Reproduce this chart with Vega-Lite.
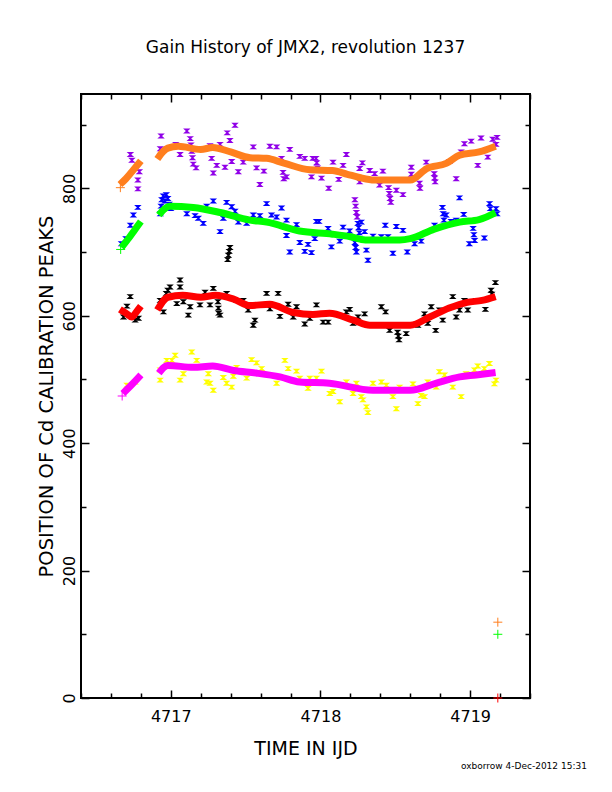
{
  "$schema": "https://vega.github.io/schema/vega-lite/v6.json",
  "width": 449,
  "height": 604,
  "autosize": {"type": "none"},
  "padding": {"left": 81, "top": 94, "right": 82, "bottom": 94},
  "background": "white",
  "title": {
    "text": "Gain History of JMX2, revolution 1237",
    "font": "DejaVu Sans", "fontSize": 17, "fontWeight": "normal", "color": "black",
    "anchor": "middle", "frame": "group", "baseline": "alphabetic", "offset": 23
  },
  "datasets": {
    "raw": [
      {"series": "Peak 4", "t": 4716.73, "v": 853}, {"series": "Peak 4", "t": 4716.74, "v": 844}, {"series": "Peak 4", "t": 4716.78, "v": 813},
      {"series": "Peak 4", "t": 4716.79, "v": 826}, {"series": "Peak 4", "t": 4716.78, "v": 799}, {"series": "Peak 4", "t": 4716.935, "v": 882},
      {"series": "Peak 4", "t": 4716.93, "v": 862}, {"series": "Peak 4", "t": 4717.033, "v": 869}, {"series": "Peak 4", "t": 4717.062, "v": 853},
      {"series": "Peak 4", "t": 4717.107, "v": 890}, {"series": "Peak 4", "t": 4717.13, "v": 878}, {"series": "Peak 4", "t": 4717.135, "v": 868},
      {"series": "Peak 4", "t": 4717.14, "v": 858}, {"series": "Peak 4", "t": 4717.145, "v": 848}, {"series": "Peak 4", "t": 4717.15, "v": 838},
      {"series": "Peak 4", "t": 4717.169, "v": 832}, {"series": "Peak 4", "t": 4717.262, "v": 867}, {"series": "Peak 4", "t": 4717.273, "v": 847},
      {"series": "Peak 4", "t": 4717.284, "v": 824}, {"series": "Peak 4", "t": 4717.307, "v": 836}, {"series": "Peak 4", "t": 4717.329, "v": 869},
      {"series": "Peak 4", "t": 4717.362, "v": 833}, {"series": "Peak 4", "t": 4717.377, "v": 887}, {"series": "Peak 4", "t": 4717.395, "v": 875},
      {"series": "Peak 4", "t": 4717.407, "v": 842}, {"series": "Peak 4", "t": 4717.429, "v": 899}, {"series": "Peak 4", "t": 4717.451, "v": 826},
      {"series": "Peak 4", "t": 4717.484, "v": 841}, {"series": "Peak 4", "t": 4717.551, "v": 865}, {"series": "Peak 4", "t": 4717.573, "v": 832},
      {"series": "Peak 4", "t": 4717.595, "v": 806}, {"series": "Peak 4", "t": 4717.622, "v": 827}, {"series": "Peak 4", "t": 4717.662, "v": 866},
      {"series": "Peak 4", "t": 4717.707, "v": 865}, {"series": "Peak 4", "t": 4717.74, "v": 847}, {"series": "Peak 4", "t": 4717.75, "v": 825},
      {"series": "Peak 4", "t": 4717.755, "v": 815}, {"series": "Peak 4", "t": 4717.773, "v": 818}, {"series": "Peak 4", "t": 4717.795, "v": 861},
      {"series": "Peak 4", "t": 4717.862, "v": 850}, {"series": "Peak 4", "t": 4717.895, "v": 847}, {"series": "Peak 4", "t": 4717.94, "v": 818},
      {"series": "Peak 4", "t": 4717.949, "v": 847}, {"series": "Peak 4", "t": 4717.97, "v": 847}, {"series": "Peak 4", "t": 4717.975, "v": 840},
      {"series": "Peak 4", "t": 4717.98, "v": 832}, {"series": "Peak 4", "t": 4718.007, "v": 816}, {"series": "Peak 4", "t": 4718.055, "v": 800},
      {"series": "Peak 4", "t": 4718.084, "v": 841}, {"series": "Peak 4", "t": 4718.122, "v": 814}, {"series": "Peak 4", "t": 4718.151, "v": 836},
      {"series": "Peak 4", "t": 4718.173, "v": 853}, {"series": "Peak 4", "t": 4718.23, "v": 782}, {"series": "Peak 4", "t": 4718.235, "v": 772},
      {"series": "Peak 4", "t": 4718.24, "v": 762}, {"series": "Peak 4", "t": 4718.245, "v": 755}, {"series": "Peak 4", "t": 4718.262, "v": 831},
      {"series": "Peak 4", "t": 4718.262, "v": 810}, {"series": "Peak 4", "t": 4718.28, "v": 840}, {"series": "Peak 4", "t": 4718.329, "v": 828},
      {"series": "Peak 4", "t": 4718.362, "v": 823}, {"series": "Peak 4", "t": 4718.395, "v": 805}, {"series": "Peak 4", "t": 4718.417, "v": 827},
      {"series": "Peak 4", "t": 4718.455, "v": 801}, {"series": "Peak 4", "t": 4718.46, "v": 792}, {"series": "Peak 4", "t": 4718.465, "v": 784},
      {"series": "Peak 4", "t": 4718.47, "v": 778}, {"series": "Peak 4", "t": 4718.507, "v": 797}, {"series": "Peak 4", "t": 4718.551, "v": 790},
      {"series": "Peak 4", "t": 4718.607, "v": 833}, {"series": "Peak 4", "t": 4718.607, "v": 822}, {"series": "Peak 4", "t": 4718.662, "v": 808},
      {"series": "Peak 4", "t": 4718.665, "v": 800}, {"series": "Peak 4", "t": 4718.707, "v": 841}, {"series": "Peak 4", "t": 4718.76, "v": 823},
      {"series": "Peak 4", "t": 4718.763, "v": 816}, {"series": "Peak 4", "t": 4718.766, "v": 810}, {"series": "Peak 4", "t": 4718.862, "v": 842},
      {"series": "Peak 4", "t": 4718.907, "v": 815}, {"series": "Peak 4", "t": 4718.94, "v": 857}, {"series": "Peak 4", "t": 4718.962, "v": 870},
      {"series": "Peak 4", "t": 4719.007, "v": 874}, {"series": "Peak 4", "t": 4719.051, "v": 836}, {"series": "Peak 4", "t": 4719.073, "v": 879},
      {"series": "Peak 4", "t": 4719.118, "v": 849}, {"series": "Peak 4", "t": 4719.151, "v": 877}, {"series": "Peak 4", "t": 4719.173, "v": 869},
      {"series": "Peak 4", "t": 4719.18, "v": 880},

      {"series": "Peak 3", "t": 4716.67, "v": 713}, {"series": "Peak 3", "t": 4716.7, "v": 721}, {"series": "Peak 3", "t": 4716.73, "v": 742},
      {"series": "Peak 3", "t": 4716.75, "v": 758}, {"series": "Peak 3", "t": 4716.78, "v": 770}, {"series": "Peak 3", "t": 4716.93, "v": 760},
      {"series": "Peak 3", "t": 4716.935, "v": 772}, {"series": "Peak 3", "t": 4716.94, "v": 782}, {"series": "Peak 3", "t": 4716.95, "v": 788},
      {"series": "Peak 3", "t": 4716.96, "v": 780}, {"series": "Peak 3", "t": 4716.97, "v": 790}, {"series": "Peak 3", "t": 4716.98, "v": 784},
      {"series": "Peak 3", "t": 4716.99, "v": 775}, {"series": "Peak 3", "t": 4717.0, "v": 768}, {"series": "Peak 3", "t": 4717.107, "v": 760},
      {"series": "Peak 3", "t": 4717.162, "v": 757}, {"series": "Peak 3", "t": 4717.184, "v": 753}, {"series": "Peak 3", "t": 4717.217, "v": 745},
      {"series": "Peak 3", "t": 4717.24, "v": 772}, {"series": "Peak 3", "t": 4717.284, "v": 780}, {"series": "Peak 3", "t": 4717.329, "v": 732},
      {"series": "Peak 3", "t": 4717.351, "v": 753}, {"series": "Peak 3", "t": 4717.373, "v": 778}, {"series": "Peak 3", "t": 4717.407, "v": 771},
      {"series": "Peak 3", "t": 4717.429, "v": 764}, {"series": "Peak 3", "t": 4717.451, "v": 747}, {"series": "Peak 3", "t": 4717.507, "v": 745},
      {"series": "Peak 3", "t": 4717.551, "v": 758}, {"series": "Peak 3", "t": 4717.595, "v": 757}, {"series": "Peak 3", "t": 4717.64, "v": 776},
      {"series": "Peak 3", "t": 4717.673, "v": 758}, {"series": "Peak 3", "t": 4717.707, "v": 755}, {"series": "Peak 3", "t": 4717.74, "v": 769},
      {"series": "Peak 3", "t": 4717.773, "v": 750}, {"series": "Peak 3", "t": 4717.773, "v": 726}, {"series": "Peak 3", "t": 4717.795, "v": 700},
      {"series": "Peak 3", "t": 4717.84, "v": 743}, {"series": "Peak 3", "t": 4717.862, "v": 715}, {"series": "Peak 3", "t": 4717.895, "v": 701},
      {"series": "Peak 3", "t": 4717.917, "v": 712}, {"series": "Peak 3", "t": 4717.94, "v": 699}, {"series": "Peak 3", "t": 4717.962, "v": 721},
      {"series": "Peak 3", "t": 4717.973, "v": 748}, {"series": "Peak 3", "t": 4717.99, "v": 748}, {"series": "Peak 3", "t": 4718.051, "v": 737},
      {"series": "Peak 3", "t": 4718.073, "v": 708}, {"series": "Peak 3", "t": 4718.129, "v": 717}, {"series": "Peak 3", "t": 4718.151, "v": 739},
      {"series": "Peak 3", "t": 4718.195, "v": 733}, {"series": "Peak 3", "t": 4718.23, "v": 715}, {"series": "Peak 3", "t": 4718.235, "v": 707},
      {"series": "Peak 3", "t": 4718.24, "v": 700}, {"series": "Peak 3", "t": 4718.25, "v": 745}, {"series": "Peak 3", "t": 4718.255, "v": 738},
      {"series": "Peak 3", "t": 4718.26, "v": 730}, {"series": "Peak 3", "t": 4718.273, "v": 747}, {"series": "Peak 3", "t": 4718.295, "v": 732},
      {"series": "Peak 3", "t": 4718.307, "v": 703}, {"series": "Peak 3", "t": 4718.317, "v": 687}, {"series": "Peak 3", "t": 4718.351, "v": 725},
      {"series": "Peak 3", "t": 4718.407, "v": 724}, {"series": "Peak 3", "t": 4718.433, "v": 742}, {"series": "Peak 3", "t": 4718.451, "v": 724},
      {"series": "Peak 3", "t": 4718.484, "v": 698}, {"series": "Peak 3", "t": 4718.507, "v": 740}, {"series": "Peak 3", "t": 4718.551, "v": 734},
      {"series": "Peak 3", "t": 4718.58, "v": 700}, {"series": "Peak 3", "t": 4718.629, "v": 713}, {"series": "Peak 3", "t": 4718.651, "v": 724},
      {"series": "Peak 3", "t": 4718.673, "v": 717}, {"series": "Peak 3", "t": 4718.762, "v": 742}, {"series": "Peak 3", "t": 4718.815, "v": 770},
      {"series": "Peak 3", "t": 4718.82, "v": 760}, {"series": "Peak 3", "t": 4718.825, "v": 750}, {"series": "Peak 3", "t": 4718.84, "v": 758},
      {"series": "Peak 3", "t": 4718.873, "v": 748}, {"series": "Peak 3", "t": 4718.907, "v": 750}, {"series": "Peak 3", "t": 4718.929, "v": 785},
      {"series": "Peak 3", "t": 4718.957, "v": 759}, {"series": "Peak 3", "t": 4718.995, "v": 713}, {"series": "Peak 3", "t": 4719.02, "v": 737},
      {"series": "Peak 3", "t": 4719.025, "v": 727}, {"series": "Peak 3", "t": 4719.03, "v": 718}, {"series": "Peak 3", "t": 4719.095, "v": 722},
      {"series": "Peak 3", "t": 4719.13, "v": 776}, {"series": "Peak 3", "t": 4719.135, "v": 768}, {"series": "Peak 3", "t": 4719.173, "v": 768},
      {"series": "Peak 3", "t": 4719.18, "v": 760},

      {"series": "Peak 2", "t": 4716.684, "v": 598}, {"series": "Peak 2", "t": 4716.707, "v": 615}, {"series": "Peak 2", "t": 4716.729, "v": 630},
      {"series": "Peak 2", "t": 4716.762, "v": 593}, {"series": "Peak 2", "t": 4716.784, "v": 596}, {"series": "Peak 2", "t": 4716.929, "v": 624},
      {"series": "Peak 2", "t": 4716.951, "v": 606}, {"series": "Peak 2", "t": 4716.97, "v": 635}, {"series": "Peak 2", "t": 4716.98, "v": 640},
      {"series": "Peak 2", "t": 4716.995, "v": 645}, {"series": "Peak 2", "t": 4717.04, "v": 619}, {"series": "Peak 2", "t": 4717.062, "v": 656},
      {"series": "Peak 2", "t": 4717.062, "v": 645}, {"series": "Peak 2", "t": 4717.084, "v": 622}, {"series": "Peak 2", "t": 4717.117, "v": 601},
      {"series": "Peak 2", "t": 4717.129, "v": 614}, {"series": "Peak 2", "t": 4717.195, "v": 617}, {"series": "Peak 2", "t": 4717.229, "v": 637},
      {"series": "Peak 2", "t": 4717.262, "v": 617}, {"series": "Peak 2", "t": 4717.284, "v": 643}, {"series": "Peak 2", "t": 4717.315, "v": 622},
      {"series": "Peak 2", "t": 4717.318, "v": 612}, {"series": "Peak 2", "t": 4717.32, "v": 604}, {"series": "Peak 2", "t": 4717.329, "v": 601},
      {"series": "Peak 2", "t": 4717.373, "v": 635}, {"series": "Peak 2", "t": 4717.38, "v": 688}, {"series": "Peak 2", "t": 4717.385, "v": 695},
      {"series": "Peak 2", "t": 4717.39, "v": 701}, {"series": "Peak 2", "t": 4717.395, "v": 707}, {"series": "Peak 2", "t": 4717.44, "v": 624},
      {"series": "Peak 2", "t": 4717.484, "v": 624}, {"series": "Peak 2", "t": 4717.517, "v": 609}, {"series": "Peak 2", "t": 4717.551, "v": 585},
      {"series": "Peak 2", "t": 4717.562, "v": 593}, {"series": "Peak 2", "t": 4717.64, "v": 635}, {"series": "Peak 2", "t": 4717.662, "v": 611},
      {"series": "Peak 2", "t": 4717.717, "v": 635}, {"series": "Peak 2", "t": 4717.729, "v": 599}, {"series": "Peak 2", "t": 4717.784, "v": 618},
      {"series": "Peak 2", "t": 4717.818, "v": 598}, {"series": "Peak 2", "t": 4717.84, "v": 614}, {"series": "Peak 2", "t": 4717.895, "v": 587},
      {"series": "Peak 2", "t": 4717.929, "v": 596}, {"series": "Peak 2", "t": 4717.973, "v": 617}, {"series": "Peak 2", "t": 4718.018, "v": 590},
      {"series": "Peak 2", "t": 4718.051, "v": 590}, {"series": "Peak 2", "t": 4718.173, "v": 606}, {"series": "Peak 2", "t": 4718.195, "v": 610},
      {"series": "Peak 2", "t": 4718.218, "v": 588}, {"series": "Peak 2", "t": 4718.251, "v": 598}, {"series": "Peak 2", "t": 4718.295, "v": 603},
      {"series": "Peak 2", "t": 4718.407, "v": 614}, {"series": "Peak 2", "t": 4718.435, "v": 606}, {"series": "Peak 2", "t": 4718.462, "v": 577},
      {"series": "Peak 2", "t": 4718.515, "v": 574}, {"series": "Peak 2", "t": 4718.52, "v": 568}, {"series": "Peak 2", "t": 4718.525, "v": 562},
      {"series": "Peak 2", "t": 4718.573, "v": 572}, {"series": "Peak 2", "t": 4718.651, "v": 585}, {"series": "Peak 2", "t": 4718.695, "v": 603},
      {"series": "Peak 2", "t": 4718.717, "v": 588}, {"series": "Peak 2", "t": 4718.74, "v": 614}, {"series": "Peak 2", "t": 4718.77, "v": 577},
      {"series": "Peak 2", "t": 4718.795, "v": 609}, {"series": "Peak 2", "t": 4718.817, "v": 593}, {"series": "Peak 2", "t": 4718.884, "v": 630},
      {"series": "Peak 2", "t": 4718.907, "v": 598}, {"series": "Peak 2", "t": 4718.929, "v": 609}, {"series": "Peak 2", "t": 4718.962, "v": 624},
      {"series": "Peak 2", "t": 4718.984, "v": 609}, {"series": "Peak 2", "t": 4719.04, "v": 624}, {"series": "Peak 2", "t": 4719.102, "v": 610},
      {"series": "Peak 2", "t": 4719.14, "v": 640}, {"series": "Peak 2", "t": 4719.145, "v": 634}, {"series": "Peak 2", "t": 4719.169, "v": 652},

      {"series": "Peak 1", "t": 4716.707, "v": 491}, {"series": "Peak 1", "t": 4716.762, "v": 496}, {"series": "Peak 1", "t": 4716.929, "v": 515},
      {"series": "Peak 1", "t": 4716.929, "v": 499}, {"series": "Peak 1", "t": 4716.973, "v": 530}, {"series": "Peak 1", "t": 4717.007, "v": 530},
      {"series": "Peak 1", "t": 4717.029, "v": 538}, {"series": "Peak 1", "t": 4717.062, "v": 499}, {"series": "Peak 1", "t": 4717.084, "v": 509},
      {"series": "Peak 1", "t": 4717.14, "v": 543}, {"series": "Peak 1", "t": 4717.173, "v": 530}, {"series": "Peak 1", "t": 4717.24, "v": 496},
      {"series": "Peak 1", "t": 4717.251, "v": 509}, {"series": "Peak 1", "t": 4717.262, "v": 494}, {"series": "Peak 1", "t": 4717.284, "v": 483},
      {"series": "Peak 1", "t": 4717.351, "v": 503}, {"series": "Peak 1", "t": 4717.373, "v": 494}, {"series": "Peak 1", "t": 4717.407, "v": 488},
      {"series": "Peak 1", "t": 4717.418, "v": 505}, {"series": "Peak 1", "t": 4717.44, "v": 519}, {"series": "Peak 1", "t": 4717.507, "v": 502},
      {"series": "Peak 1", "t": 4717.54, "v": 531}, {"series": "Peak 1", "t": 4717.573, "v": 526}, {"series": "Peak 1", "t": 4717.607, "v": 517},
      {"series": "Peak 1", "t": 4717.707, "v": 494}, {"series": "Peak 1", "t": 4717.762, "v": 530}, {"series": "Peak 1", "t": 4717.784, "v": 517},
      {"series": "Peak 1", "t": 4717.84, "v": 513}, {"series": "Peak 1", "t": 4717.862, "v": 502}, {"series": "Peak 1", "t": 4717.917, "v": 486},
      {"series": "Peak 1", "t": 4717.929, "v": 502}, {"series": "Peak 1", "t": 4717.973, "v": 502}, {"series": "Peak 1", "t": 4718.007, "v": 513},
      {"series": "Peak 1", "t": 4718.062, "v": 478}, {"series": "Peak 1", "t": 4718.084, "v": 481}, {"series": "Peak 1", "t": 4718.129, "v": 465},
      {"series": "Peak 1", "t": 4718.173, "v": 496}, {"series": "Peak 1", "t": 4718.218, "v": 478}, {"series": "Peak 1", "t": 4718.24, "v": 494},
      {"series": "Peak 1", "t": 4718.273, "v": 473}, {"series": "Peak 1", "t": 4718.284, "v": 468}, {"series": "Peak 1", "t": 4718.307, "v": 457},
      {"series": "Peak 1", "t": 4718.317, "v": 448}, {"series": "Peak 1", "t": 4718.351, "v": 494}, {"series": "Peak 1", "t": 4718.407, "v": 496},
      {"series": "Peak 1", "t": 4718.44, "v": 491}, {"series": "Peak 1", "t": 4718.484, "v": 473}, {"series": "Peak 1", "t": 4718.507, "v": 454},
      {"series": "Peak 1", "t": 4718.529, "v": 488}, {"series": "Peak 1", "t": 4718.573, "v": 483}, {"series": "Peak 1", "t": 4718.618, "v": 493},
      {"series": "Peak 1", "t": 4718.651, "v": 462}, {"series": "Peak 1", "t": 4718.673, "v": 475}, {"series": "Peak 1", "t": 4718.695, "v": 473},
      {"series": "Peak 1", "t": 4718.717, "v": 496}, {"series": "Peak 1", "t": 4718.773, "v": 488}, {"series": "Peak 1", "t": 4718.795, "v": 512},
      {"series": "Peak 1", "t": 4718.829, "v": 507}, {"series": "Peak 1", "t": 4718.884, "v": 488}, {"series": "Peak 1", "t": 4718.94, "v": 473},
      {"series": "Peak 1", "t": 4718.973, "v": 509}, {"series": "Peak 1", "t": 4719.029, "v": 515}, {"series": "Peak 1", "t": 4719.051, "v": 521},
      {"series": "Peak 1", "t": 4719.095, "v": 517}, {"series": "Peak 1", "t": 4719.129, "v": 525}, {"series": "Peak 1", "t": 4719.162, "v": 493},
      {"series": "Peak 1", "t": 4719.173, "v": 499}
    ],
    "fit": [
      {"series": "Peak 4 fit", "seg": "a", "t": 4716.66, "v": 806}, {"series": "Peak 4 fit", "seg": "a", "t": 4716.7, "v": 815},
      {"series": "Peak 4 fit", "seg": "a", "t": 4716.74, "v": 826}, {"series": "Peak 4 fit", "seg": "a", "t": 4716.8, "v": 843},
      {"series": "Peak 4 fit", "seg": "b", "t": 4716.91, "v": 846}, {"series": "Peak 4 fit", "seg": "b", "t": 4716.95, "v": 858},
      {"series": "Peak 4 fit", "seg": "b", "t": 4716.98, "v": 863}, {"series": "Peak 4 fit", "seg": "b", "t": 4717.05, "v": 866},
      {"series": "Peak 4 fit", "seg": "b", "t": 4717.2, "v": 861}, {"series": "Peak 4 fit", "seg": "b", "t": 4717.28, "v": 864},
      {"series": "Peak 4 fit", "seg": "b", "t": 4717.4, "v": 857}, {"series": "Peak 4 fit", "seg": "b", "t": 4717.53, "v": 848},
      {"series": "Peak 4 fit", "seg": "b", "t": 4717.64, "v": 847}, {"series": "Peak 4 fit", "seg": "b", "t": 4717.75, "v": 840},
      {"series": "Peak 4 fit", "seg": "b", "t": 4717.93, "v": 829}, {"series": "Peak 4 fit", "seg": "b", "t": 4718.08, "v": 828},
      {"series": "Peak 4 fit", "seg": "b", "t": 4718.18, "v": 822}, {"series": "Peak 4 fit", "seg": "b", "t": 4718.26, "v": 817},
      {"series": "Peak 4 fit", "seg": "b", "t": 4718.36, "v": 813}, {"series": "Peak 4 fit", "seg": "b", "t": 4718.6, "v": 813},
      {"series": "Peak 4 fit", "seg": "b", "t": 4718.71, "v": 831}, {"series": "Peak 4 fit", "seg": "b", "t": 4718.84, "v": 839},
      {"series": "Peak 4 fit", "seg": "b", "t": 4718.93, "v": 852}, {"series": "Peak 4 fit", "seg": "b", "t": 4719.06, "v": 857},
      {"series": "Peak 4 fit", "seg": "b", "t": 4719.17, "v": 866},

      {"series": "Peak 3 fit", "seg": "a", "t": 4716.67, "v": 707}, {"series": "Peak 3 fit", "seg": "a", "t": 4716.72, "v": 722},
      {"series": "Peak 3 fit", "seg": "a", "t": 4716.76, "v": 735}, {"series": "Peak 3 fit", "seg": "a", "t": 4716.8, "v": 748},
      {"series": "Peak 3 fit", "seg": "b", "t": 4716.92, "v": 758}, {"series": "Peak 3 fit", "seg": "b", "t": 4716.96, "v": 768},
      {"series": "Peak 3 fit", "seg": "b", "t": 4716.99, "v": 772}, {"series": "Peak 3 fit", "seg": "b", "t": 4717.15, "v": 770},
      {"series": "Peak 3 fit", "seg": "b", "t": 4717.33, "v": 762}, {"series": "Peak 3 fit", "seg": "b", "t": 4717.53, "v": 750},
      {"series": "Peak 3 fit", "seg": "b", "t": 4717.64, "v": 747}, {"series": "Peak 3 fit", "seg": "b", "t": 4717.86, "v": 733},
      {"series": "Peak 3 fit", "seg": "b", "t": 4718.08, "v": 728}, {"series": "Peak 3 fit", "seg": "b", "t": 4718.2, "v": 724},
      {"series": "Peak 3 fit", "seg": "b", "t": 4718.3, "v": 719}, {"series": "Peak 3 fit", "seg": "b", "t": 4718.53, "v": 719},
      {"series": "Peak 3 fit", "seg": "b", "t": 4718.6, "v": 721}, {"series": "Peak 3 fit", "seg": "b", "t": 4718.76, "v": 736},
      {"series": "Peak 3 fit", "seg": "b", "t": 4718.93, "v": 747}, {"series": "Peak 3 fit", "seg": "b", "t": 4719.06, "v": 751},
      {"series": "Peak 3 fit", "seg": "b", "t": 4719.17, "v": 762},

      {"series": "Peak 2 fit", "seg": "a", "t": 4716.66, "v": 610}, {"series": "Peak 2 fit", "seg": "a", "t": 4716.7, "v": 604},
      {"series": "Peak 2 fit", "seg": "a", "t": 4716.74, "v": 598}, {"series": "Peak 2 fit", "seg": "a", "t": 4716.77, "v": 606},
      {"series": "Peak 2 fit", "seg": "a", "t": 4716.8, "v": 615},
      {"series": "Peak 2 fit", "seg": "b", "t": 4716.91, "v": 609}, {"series": "Peak 2 fit", "seg": "b", "t": 4716.98, "v": 629},
      {"series": "Peak 2 fit", "seg": "b", "t": 4717.08, "v": 632}, {"series": "Peak 2 fit", "seg": "b", "t": 4717.2, "v": 629},
      {"series": "Peak 2 fit", "seg": "b", "t": 4717.3, "v": 632}, {"series": "Peak 2 fit", "seg": "b", "t": 4717.42, "v": 626},
      {"series": "Peak 2 fit", "seg": "b", "t": 4717.53, "v": 616}, {"series": "Peak 2 fit", "seg": "b", "t": 4717.66, "v": 618},
      {"series": "Peak 2 fit", "seg": "b", "t": 4717.82, "v": 605}, {"series": "Peak 2 fit", "seg": "b", "t": 4717.95, "v": 602},
      {"series": "Peak 2 fit", "seg": "b", "t": 4718.06, "v": 604}, {"series": "Peak 2 fit", "seg": "b", "t": 4718.22, "v": 593},
      {"series": "Peak 2 fit", "seg": "b", "t": 4718.33, "v": 585}, {"series": "Peak 2 fit", "seg": "b", "t": 4718.6, "v": 585},
      {"series": "Peak 2 fit", "seg": "b", "t": 4718.73, "v": 598}, {"series": "Peak 2 fit", "seg": "b", "t": 4718.86, "v": 612},
      {"series": "Peak 2 fit", "seg": "b", "t": 4718.98, "v": 621}, {"series": "Peak 2 fit", "seg": "b", "t": 4719.08, "v": 624},
      {"series": "Peak 2 fit", "seg": "b", "t": 4719.17, "v": 630},

      {"series": "Peak 1 fit", "seg": "a", "t": 4716.68, "v": 478}, {"series": "Peak 1 fit", "seg": "a", "t": 4716.74, "v": 492},
      {"series": "Peak 1 fit", "seg": "a", "t": 4716.8, "v": 507},
      {"series": "Peak 1 fit", "seg": "b", "t": 4716.92, "v": 510}, {"series": "Peak 1 fit", "seg": "b", "t": 4716.98, "v": 522},
      {"series": "Peak 1 fit", "seg": "b", "t": 4717.15, "v": 519}, {"series": "Peak 1 fit", "seg": "b", "t": 4717.28, "v": 521},
      {"series": "Peak 1 fit", "seg": "b", "t": 4717.42, "v": 514}, {"series": "Peak 1 fit", "seg": "b", "t": 4717.57, "v": 510},
      {"series": "Peak 1 fit", "seg": "b", "t": 4717.73, "v": 504}, {"series": "Peak 1 fit", "seg": "b", "t": 4717.86, "v": 496},
      {"series": "Peak 1 fit", "seg": "b", "t": 4718.06, "v": 494}, {"series": "Peak 1 fit", "seg": "b", "t": 4718.35, "v": 483},
      {"series": "Peak 1 fit", "seg": "b", "t": 4718.6, "v": 483}, {"series": "Peak 1 fit", "seg": "b", "t": 4718.77, "v": 494},
      {"series": "Peak 1 fit", "seg": "b", "t": 4718.93, "v": 504}, {"series": "Peak 1 fit", "seg": "b", "t": 4719.04, "v": 507},
      {"series": "Peak 1 fit", "seg": "b", "t": 4719.17, "v": 511}
    ],
    "plus": [
      {"series": "Peak 4 fit", "t": 4719.185, "v": 119},
      {"series": "Peak 3 fit", "t": 4719.185, "v": 100},
      {"series": "Peak 2 fit", "t": 4719.185, "v": 0},
      {"series": "Peak 4 fit", "t": 4716.663, "v": 801},
      {"series": "Peak 3 fit", "t": 4716.665, "v": 704},
      {"series": "Peak 1 fit", "t": 4716.675, "v": 474}
    ],
    "note": [
      {"text": "oxborrow 4-Dec-2012 15:31"}
    ]
  },
  "layer": [
    {
      "data": {"name": "raw"},
      "mark": {"type": "point", "shape": "M-1,-0.65L1,-0.65L0.25,0L1,0.65L-1,0.65L-0.25,0Z", "filled": true, "size": 56, "opacity": 1},
      "encoding": {
        "x": {
          "field": "t", "type": "quantitative",
          "scale": {"domain": [4716.4, 4719.4], "nice": false, "zero": false},
          "axis": {
            "orient": "bottom", "values": [4717, 4718, 4719], "format": "d",
            "tickSize": -8, "labelPadding": 18,
            "title": "TIME IN IJD", "titleFontSize": 19, "titleY": 56, "titleBaseline": "alphabetic"
          }
        },
        "y": {
          "field": "v", "type": "quantitative",
          "scale": {"domain": [0, 948], "nice": false},
          "axis": {
            "orient": "left", "values": [0, 200, 400, 600, 800],
            "tickSize": -8,
            "labelAngle": -90, "labelAlign": "center", "labelBaseline": "alphabetic",
            "labelPadding": 15,
            "title": "POSITION OF Cd CALIBRATION PEAKS",
            "titleFontSize": 19.5, "titleX": -29, "titleBaseline": "alphabetic"
          }
        },
        "color": {
          "field": "series", "type": "nominal", "legend": null,
          "scale": {
            "domain": ["Peak 1", "Peak 1 fit", "Peak 2", "Peak 2 fit", "Peak 3", "Peak 3 fit", "Peak 4", "Peak 4 fit"],
            "range": ["#ffff00", "#ff00ff", "#000000", "#ff0000", "#0000ff", "#00ff00", "#9000e8", "#ff7f1e"]
          }
        }
      }
    },
    {
      "data": {"name": "fit"},
      "transform": [{"filter": "datum.seg === 'a'"}],
      "mark": {"type": "line", "strokeWidth": 7, "interpolate": "monotone", "strokeCap": "butt"},
      "encoding": {
        "x": {
          "field": "t", "type": "quantitative",
          "axis": {
            "orient": "bottom", "labels": false, "title": null, "tickSize": -5,
            "values": [4716.4, 4716.6, 4716.8, 4717.2, 4717.4, 4717.6, 4717.8, 4718.2, 4718.4, 4718.6, 4718.8, 4719.2, 4719.4]
          }
        },
        "y": {
          "field": "v", "type": "quantitative",
          "axis": {"orient": "left", "labels": false, "title": null, "tickSize": -5, "values": [100, 300, 500, 700, 900]}
        },
        "color": {"field": "series", "type": "nominal", "legend": null},
        "detail": {"field": "series"}
      }
    },
    {
      "data": {"name": "fit"},
      "transform": [{"filter": "datum.seg === 'b'"}],
      "mark": {"type": "line", "strokeWidth": 7, "interpolate": "monotone", "strokeCap": "butt"},
      "encoding": {
        "x": {
          "field": "t", "type": "quantitative",
          "axis": {"orient": "top", "labels": false, "title": null, "tickSize": -8, "values": [4717, 4718, 4719]}
        },
        "y": {
          "field": "v", "type": "quantitative",
          "axis": {"orient": "right", "labels": false, "title": null, "tickSize": -8, "values": [0, 200, 400, 600, 800]}
        },
        "color": {"field": "series", "type": "nominal", "legend": null},
        "detail": {"field": "series"}
      }
    },
    {
      "data": {"name": "plus"},
      "mark": {"type": "point", "shape": "M-1,0H1M0,-1V1", "filled": false, "size": 81, "strokeWidth": 1, "opacity": 1, "clip": false},
      "encoding": {
        "x": {
          "field": "t", "type": "quantitative",
          "axis": {
            "orient": "top", "labels": false, "title": null, "tickSize": -5,
            "values": [4716.4, 4716.6, 4716.8, 4717.2, 4717.4, 4717.6, 4717.8, 4718.2, 4718.4, 4718.6, 4718.8, 4719.2, 4719.4]
          }
        },
        "y": {
          "field": "v", "type": "quantitative",
          "axis": {"orient": "right", "labels": false, "title": null, "tickSize": -5, "values": [100, 300, 500, 700, 900]}
        },
        "color": {"field": "series", "type": "nominal", "legend": null}
      }
    },
    {
      "data": {"name": "note"},
      "mark": {"type": "text", "align": "right", "baseline": "alphabetic", "font": "DejaVu Sans", "fontSize": 9, "color": "black"},
      "encoding": {
        "x": {"datum": 4719.78, "type": "quantitative", "axis": null},
        "y": {"datum": -111, "type": "quantitative", "axis": null},
        "text": {"field": "text"}
      }
    }
  ],
  "resolve": {"axis": {"x": "independent", "y": "independent"}},
  "config": {
    "view": {"stroke": "black", "strokeWidth": 2},
    "axis": {
      "domain": false, "grid": false, "labelOverlap": false, "labelFlush": false,
      "tickColor": "black", "tickWidth": 1.5,
      "labelFont": "DejaVu Sans", "labelFontSize": 16, "labelColor": "black",
      "titleFont": "DejaVu Sans", "titleFontSize": 18, "titleFontWeight": "normal", "titleColor": "black"
    }
  }
}
